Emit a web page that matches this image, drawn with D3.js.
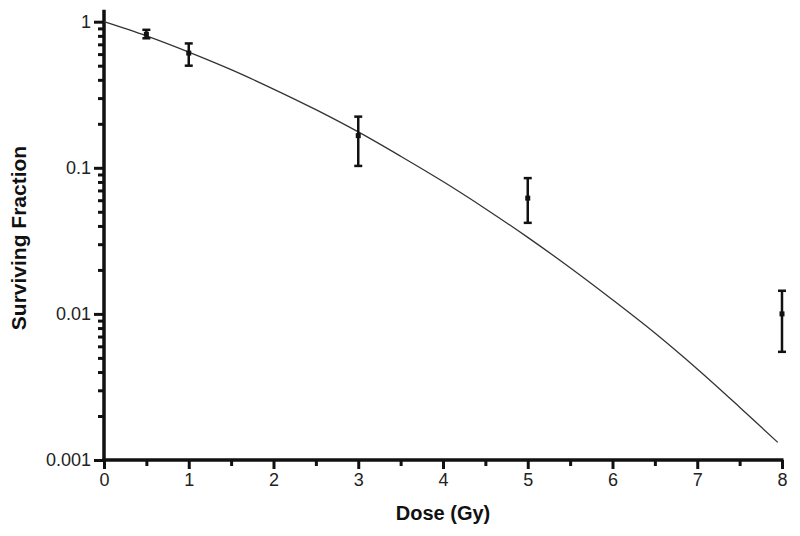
<!DOCTYPE html>
<html>
<head>
<meta charset="utf-8">
<script src="https://cdn.jsdelivr.net/npm/d3@7"></script>
<style>
  body { margin: 0; background: #fff; }
  svg { display: block; font-family: "Liberation Sans", Arial, sans-serif; }
  .axis .domain { display: none; }
  .axis line { stroke: #111; stroke-width: 3; }
  .title { font-weight: bold; fill: #111; }
</style>
</head>
<body>
<div id="vis"></div>
<script>
// measured survival points (dose in Gy) with error bar ends
var doses = [0.5, 1, 3, 5, 8];
var survival = [0.82, 0.61, 0.166, 0.062, 0.0100];
var errLow = [0.77, 0.50, 0.103, 0.042, 0.0055];
var errHigh = [0.88, 0.71, 0.224, 0.085, 0.0144];

// fitted curve, every half Gy
var fitDose = [0, 0.5, 1, 1.5, 2, 2.5, 3, 3.5, 4, 4.5, 5, 5.5, 6, 6.5, 7, 7.5, 7.95];
var fitSurvival = [1, 0.80, 0.62, 0.47, 0.346, 0.25, 0.176, 0.12, 0.0805, 0.0525,
                   0.0334, 0.0207, 0.0125, 0.0074, 0.0042, 0.0023, 0.00132];

var xTicks = [0, 1, 2, 3, 4, 5, 6, 7, 8];
var xMinorTicks = [0.5, 1.5, 2.5, 3.5, 4.5, 5.5, 6.5, 7.5];
var yTicks = [1, 0.1, 0.01, 0.001];
var yTickLabels = ['1', '0.1', '0.01', '0.001'];

var width = 800, height = 536;

var svg = d3.select('#vis').append('svg')
    .attr('width', width)
    .attr('height', height);

var x = d3.scaleLinear().domain([0, 8]).range([104, 782]);
var y = d3.scaleLog().domain([0.001, 1]).range([460, 21.7]);

// minor log ticks 2..9 in each decade
var yMinorTicks = [];
[0.001, 0.01, 0.1].forEach(function (base) {
    for (var k = 2; k <= 9; k++) yMinorTicks.push(base * k);
});

function styleLabels(g) {
    g.selectAll('text')
        .attr('font-size', 18)
        .attr('font-family', '"Liberation Sans", Arial, sans-serif')
        .attr('fill', '#222');
}

// x axis
svg.append('g')
    .attr('class', 'axis')
    .attr('transform', 'translate(0,' + y(0.001) + ')')
    .call(d3.axisBottom(x).tickValues(xMinorTicks).tickSize(6).tickFormat(''));
svg.append('g')
    .attr('class', 'axis')
    .attr('transform', 'translate(0,' + y(0.001) + ')')
    .call(d3.axisBottom(x).tickValues(xTicks).tickSize(9).tickPadding(4)
        .tickFormat(d3.format('d')))
    .call(styleLabels);

// y axis
svg.append('g')
    .attr('class', 'axis')
    .attr('transform', 'translate(' + x(0) + ',0)')
    .call(d3.axisLeft(y).tickValues(yMinorTicks).tickSize(6).tickFormat(''));
svg.append('g')
    .attr('class', 'axis')
    .attr('transform', 'translate(' + x(0) + ',0)')
    .call(d3.axisLeft(y).tickValues(yTicks).tickSize(10).tickPadding(3)
        .tickFormat(function (d, i) { return yTickLabels[i]; }))
    .call(styleLabels);

// axis lines, drawn thick like the original
svg.append('line')
    .attr('x1', x(0)).attr('x2', x(0))
    .attr('y1', y(1) - 12).attr('y2', y(0.001) + 1.5)
    .attr('stroke', '#111').attr('stroke-width', 3.5);
svg.append('line')
    .attr('x1', x(0) - 1.5).attr('x2', x(8) + 1.5)
    .attr('y1', y(0.001)).attr('y2', y(0.001))
    .attr('stroke', '#111').attr('stroke-width', 3.5);

// fitted curve
var line = d3.line()
    .x(function (d, i) { return x(fitDose[i]); })
    .y(function (d) { return y(d); })
    .curve(d3.curveCatmullRom.alpha(0.5));
svg.append('path')
    .datum(fitSurvival)
    .attr('d', line)
    .attr('fill', 'none')
    .attr('stroke', '#333')
    .attr('stroke-width', 1.3);

// error bars
var pts = svg.selectAll('.pt').data(doses).enter().append('g').attr('class', 'pt');
pts.append('line')
    .attr('x1', function (d) { return x(d); })
    .attr('x2', function (d) { return x(d); })
    .attr('y1', function (d, i) { return y(errLow[i]); })
    .attr('y2', function (d, i) { return y(errHigh[i]); })
    .attr('stroke', '#111').attr('stroke-width', 2.5);
[errLow, errHigh].forEach(function (arr) {
    pts.append('line')
        .attr('x1', function (d) { return x(d) - 4; })
        .attr('x2', function (d) { return x(d) + 4; })
        .attr('y1', function (d, i) { return y(arr[i]); })
        .attr('y2', function (d, i) { return y(arr[i]); })
        .attr('stroke', '#111').attr('stroke-width', 2.5);
});
pts.append('rect')
    .attr('x', function (d) { return x(d) - 2.5; })
    .attr('y', function (d, i) { return y(survival[i]) - 2.5; })
    .attr('width', 5).attr('height', 5)
    .attr('fill', '#111');

// titles
svg.append('text')
    .attr('class', 'title')
    .attr('font-size', 20)
    .attr('x', (x(0) + x(8)) / 2)
    .attr('y', 520)
    .attr('text-anchor', 'middle')
    .text('Dose (Gy)');
svg.append('text')
    .attr('class', 'title')
    .attr('font-size', 21)
    .attr('transform', 'translate(26,238) rotate(-90)')
    .attr('text-anchor', 'middle')
    .text('Surviving Fraction');
</script>
</body>
</html>
